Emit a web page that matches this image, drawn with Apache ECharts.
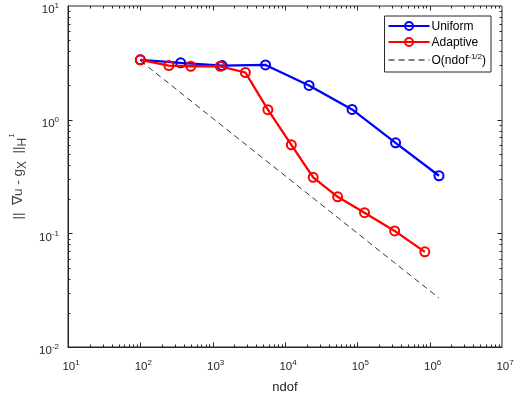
<!DOCTYPE html>
<html>
<head>
<meta charset="utf-8">
<script src="https://cdn.jsdelivr.net/npm/echarts@6/dist/echarts.min.js"></script>
<style>html,body{margin:0;padding:0;background:#fff}#c{width:527px;height:403px}</style>
</head>
<body>
<div id="c"></div>
<script>
// ---- data ----
const uniformNdof = [100, 361, 1350, 5380, 21500, 84500, 338000, 1345000];
const uniformErr  = [3.36, 3.16, 2.99, 3.03, 2.00, 1.23, 0.625, 0.321];
const adaptiveNdof = [100, 248, 498, 1273, 2830, 5800, 12240, 24500, 53400, 125600, 328000, 857000];
const adaptiveErr  = [3.36, 2.99, 2.95, 2.95, 2.60, 1.225, 0.601, 0.311, 0.2095, 0.152, 0.105, 0.0687];
const refNdof = [100, 1340000];
const refErr  = [3.3, 0.027];
const xTickExponents = [1, 2, 3, 4, 5, 6, 7];
const yTickExponents = [-2, -1, 0, 1];
const seriesNames = ['Uniform', 'Adaptive', 'O(ndof-1/2)'];

const X_MIN = 10, X_MAX = 1e7, Y_MIN = 0.01, Y_MAX = 10;
const AX = '#262626';
const FONT = 'Liberation Sans';

function pairs(a, b) { return a.map((v, i) => [v, b[i]]); }

const xTicks = [], yTicks = [];
for (let e = xTickExponents[0]; e < xTickExponents[xTickExponents.length - 1]; e++) {
  for (let k = 1; k <= 9; k++) xTicks.push([k * Math.pow(10, e), k === 1 ? 1 : 0]);
}
for (let e = yTickExponents[0]; e < yTickExponents[yTickExponents.length - 1]; e++) {
  for (let k = 1; k <= 9; k++) yTicks.push([k * Math.pow(10, e), k === 1 ? 1 : 0]);
}

function expLabel(v) {
  const e = Math.round(Math.log10(v));
  return '{b|10}{s|' + e + '}';
}

const labelRich = {
  b: { fontSize: 11.5, fontFamily: FONT, color: AX, lineHeight: 14, verticalAlign: 'bottom' },
  s: { fontSize: 8, fontFamily: FONT, color: AX, lineHeight: 8, verticalAlign: 'top' }
};

const lineStyleDef = (c) => ({ color: c, width: 2.3 });

const chart = echarts.init(document.getElementById('c'), null, { renderer: 'canvas' });
chart.setOption({
  animation: false,
  backgroundColor: '#fff',
  grid: { left: 68, right: 25, top: 6, bottom: 56, show: true, borderColor: AX, borderWidth: 1, backgroundColor: '#fff' },
  xAxis: {
    type: 'log', logBase: 10, min: X_MIN, max: X_MAX, splitNumber: 6,
    axisLine: { show: true, lineStyle: { color: AX, width: 1 } },
    axisTick: { show: false },
    splitLine: { show: false },
    axisLabel: { formatter: expLabel, rich: labelRich, margin: 12, color: AX, padding: [0, 0, 0, 6] },
    name: 'ndof', nameLocation: 'middle', nameGap: 34,
    nameTextStyle: { fontFamily: FONT, fontSize: 13, color: AX }
  },
  yAxis: {
    type: 'log', logBase: 10, min: Y_MIN, max: Y_MAX, splitNumber: 3,
    axisLine: { show: true, lineStyle: { color: AX, width: 1 } },
    axisTick: { show: false },
    splitLine: { show: false },
    axisLabel: { formatter: expLabel, rich: labelRich, margin: 9, color: AX, padding: [6, 0, 0, 0] },
    name: '{t|||  \u2207u - g}{sub|X}{t|  ||}{sub|H}{sup|1}',
    nameLocation: 'middle', nameGap: 32,
    nameTextStyle: {
      color: '#444',
      rich: {
        t: { fontFamily: FONT, fontSize: 13.5, color: '#444', lineHeight: 20, verticalAlign: 'middle' },
        sub: { fontFamily: FONT, fontSize: 12, color: '#444', lineHeight: 14, verticalAlign: 'bottom' },
        sup: { fontFamily: FONT, fontSize: 8, color: '#444', lineHeight: 8, verticalAlign: 'top' }
      }
    }
  },
  legend: {
    orient: 'vertical', right: 36, top: 16,
    data: [
      { name: seriesNames[0] },
      { name: seriesNames[1] },
      { name: seriesNames[2], itemStyle: { color: 'rgba(0,0,0,0)', borderWidth: 0, opacity: 0 }, lineStyle: { type: [6, 4], width: 1, color: '#000' } }
    ],
    backgroundColor: '#fff', borderColor: AX, borderWidth: 1,
    padding: [5, 5, 5, 3], itemGap: 4, itemWidth: 41, itemHeight: 10,
    formatter: function (n) {
      if (n === seriesNames[2]) return '{t|O(ndof}{s|-1/2}{t|)}';
      return '{t|' + n + '}';
    },
    textStyle: {
      color: '#000', fontFamily: FONT, fontSize: 12, padding: [0, 0, 0, -3],
      rich: {
        t: { fontFamily: FONT, fontSize: 12, color: '#000', lineHeight: 14, verticalAlign: 'bottom' },
        s: { fontFamily: FONT, fontSize: 8, color: '#000', lineHeight: 8, verticalAlign: 'top' }
      }
    }
  },
  series: [
    {
      name: seriesNames[0], type: 'line', data: pairs(uniformNdof, uniformErr),
      symbol: 'circle', symbolSize: 9, z: 3,
      lineStyle: lineStyleDef('#0000ff'),
      itemStyle: { color: 'rgba(0,0,0,0)', borderColor: '#0000ff', borderWidth: 2 }
    },
    {
      name: seriesNames[1], type: 'line', data: pairs(adaptiveNdof, adaptiveErr),
      symbol: 'circle', symbolSize: 9, z: 4,
      lineStyle: lineStyleDef('#ff0000'),
      itemStyle: { color: 'rgba(0,0,0,0)', borderColor: '#ff0000', borderWidth: 2 }
    },
    {
      name: seriesNames[2], type: 'line', data: pairs(refNdof, refErr),
      symbol: 'none', z: 5,
      lineStyle: { color: '#000', width: 0.8, type: [6, 4] },
      itemStyle: { color: '#000' }
    },
    {
      type: 'custom', name: 'xticks', silent: true, z: 6, clip: false,
      data: xTicks.map(t => [t[0], Y_MIN, t[1]]),
      renderItem: function (params, api) {
        const v = api.value(0), major = api.value(2);
        const len = major ? 4.5 : 2.5;
        const b = api.coord([v, Y_MIN]), t = api.coord([v, Y_MAX]);
        const st = { stroke: AX, lineWidth: 1 };
        return { type: 'group', children: [
          { type: 'line', shape: { x1: Math.round(b[0]) + 0.5, y1: b[1], x2: Math.round(b[0]) + 0.5, y2: b[1] - len }, style: st },
          { type: 'line', shape: { x1: Math.round(t[0]) + 0.5, y1: t[1], x2: Math.round(t[0]) + 0.5, y2: t[1] + len }, style: st }
        ] };
      }
    },
    {
      type: 'custom', name: 'yticks', silent: true, z: 6, clip: false,
      data: yTicks.map(t => [X_MIN, t[0], t[1]]),
      renderItem: function (params, api) {
        const v = api.value(1), major = api.value(2);
        const len = major ? 4.5 : 2.5;
        const l = api.coord([X_MIN, v]), r = api.coord([X_MAX, v]);
        const st = { stroke: AX, lineWidth: 1 };
        return { type: 'group', children: [
          { type: 'line', shape: { x1: l[0], y1: Math.round(l[1]) + 0.5, x2: l[0] + len, y2: Math.round(l[1]) + 0.5 }, style: st },
          { type: 'line', shape: { x1: r[0], y1: Math.round(r[1]) + 0.5, x2: r[0] - len, y2: Math.round(r[1]) + 0.5 }, style: st }
        ] };
      }
    }
  ]
});
</script>
</body>
</html>
